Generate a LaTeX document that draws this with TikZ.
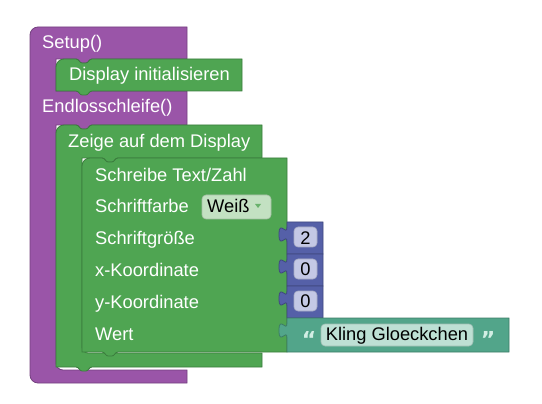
\documentclass[tikz,border=0pt]{standalone}
\usepackage{fontspec}
\setmainfont{Liberation Sans}
\newfontfamily\quotefont{DejaVu Sans}
\newcommand\blkfont{\fontsize{18.3}{20}\selectfont}
\definecolor{procPurple}{HTML}{9A55A8}
\definecolor{dispGreen}{HTML}{4FA552}
\definecolor{numBlue}{HTML}{5560A8}
\definecolor{textTeal}{HTML}{52A58A}
\definecolor{fieldGreen}{HTML}{C3E1C2}
\definecolor{fieldBlue}{HTML}{C4C8E5}
\definecolor{fieldTeal}{HTML}{BDE0D4}
\definecolor{quoteTeal}{HTML}{D2EEE4}
\begin{document}
\begin{tikzpicture}[x=1pt,y=-1pt,
  lbl/.style={anchor=base west,text=white,inner sep=0pt,font=\blkfont},
  val/.style={anchor=base,text=black,inner sep=0pt,font=\blkfont},
  quotemark/.style={anchor=base,inner sep=0pt,text=quoteTeal,font=\quotefont\bfseries\fontsize{22}{22}\selectfont},
  purpleblock/.style={fill=procPurple,draw=procPurple!75!black,line width=0.8pt},
  greenblock/.style={fill=dispGreen,draw=dispGreen!75!black,line width=0.8pt},
  blueblock/.style={fill=numBlue,draw=numBlue!75!black,line width=0.8pt},
  tealblock/.style={fill=textTeal,draw=textTeal!75!black,line width=0.8pt},
  field/.style={rounded corners=4pt,line width=0.6pt}]
\useasboundingbox (0,0) rectangle (542,404);

% procedure block with two statement slots
\path[purpleblock] (30,35) .. controls (30,30.6) and (33.6,27) .. (38,27)
  -- (187,27) -- (187,59) -- (92,59)
  .. controls (89,59) and (88.5,63) .. (86,63) -- (82,63)
  .. controls (79.5,63) and (79,59) .. (76,59)
  -- (56,59) -- (56,91) -- (187,91) -- (187,125) -- (92,125)
  .. controls (89,125) and (88.5,129) .. (86,129) -- (82,129)
  .. controls (79.5,129) and (79,125) .. (76,125)
  -- (56,125) -- (56,363) .. controls (56,366.9) and (59.1,370) .. (63,370)
  -- (187,370) -- (187,383) -- (38,383)
  .. controls (33.6,383) and (30,379.4) .. (30,375) -- cycle;

% Display initialisieren
\path[greenblock] (56,67) .. controls (56,62.6) and (59.6,59) .. (64,59)
  -- (76,59) .. controls (79,59) and (79.5,63) .. (82,63) -- (86,63)
  .. controls (88.5,63) and (89,59) .. (92,59)
  -- (242,59) -- (242,91) -- (92,91)
  .. controls (89,91) and (88.5,95) .. (86,95) -- (82,95)
  .. controls (79.5,95) and (79,91) .. (76,91) -- (56,91) -- cycle;

% Zeige auf dem Display (C-shaped)
\path[greenblock] (56,133) .. controls (56,128.6) and (59.6,125) .. (64,125)
  -- (76,125) .. controls (79,125) and (79.5,129) .. (82,129) -- (86,129)
  .. controls (88.5,129) and (89,125) .. (92,125)
  -- (262,125) -- (262,158) -- (118,158)
  .. controls (115,158) and (114.5,162) .. (112,162) -- (108,162)
  .. controls (105.5,162) and (105,158) .. (102,158)
  -- (82,158) -- (82,347) .. controls (82,350.3) and (84.7,353) .. (88,353)
  -- (262,353) -- (262,367) -- (92,367)
  .. controls (89,367) and (88.5,371) .. (86,371) -- (82,371)
  .. controls (79.5,371) and (79,367) .. (76,367) -- (56,367) -- cycle;

% Schreibe Text/Zahl
\path[greenblock] (82,166) .. controls (82,161.6) and (85.6,158) .. (90,158)
  -- (102,158) .. controls (105,158) and (105.5,162) .. (108,162) -- (112,162)
  .. controls (114.5,162) and (115,158) .. (118,158)
  -- (287,158) -- (287,352) -- (118,352)
  .. controls (115,352) and (114.5,356) .. (112,356) -- (108,356)
  .. controls (105.5,356) and (105,352) .. (102,352) -- (82,352) -- cycle;

% number blocks with output tabs
\foreach \t in {222,254,286}{
  \path[blueblock] (287,\t+5) -- (287,\t) -- (323,\t)
    -- (323,\t+32) -- (287,\t+32) -- (287,\t+20)
    .. controls (287,\t+10) and (279,\t+28) .. (279,\t+12.5)
    .. controls (279,\t-3) and (287,\t+15) .. (287,\t+5) -- cycle;
}
% text block with output tab
\path[tealblock] (287,323) -- (287,318) -- (509,318) -- (509,352) -- (287,352) -- (287,338)
  .. controls (287,328) and (279,346) .. (279,330.5)
  .. controls (279,315) and (287,333) .. (287,323) -- cycle;

% labels
\node[lbl] (setup) at (42,48.5) {Setup()};
\node[lbl] (dispinit) at (69,80.5) {Display initialisieren};
\node[lbl] (loop) at (42,112.5) {Endlosschleife()};
\node[lbl] (show) at (68,147.5) {Zeige auf dem Display};
\node[lbl] (write) at (95,181.5) {Schreibe Text/Zahl};
\node[lbl] (colour) at (95,212.5) {Schriftfarbe};
\node[lbl] (size) at (95,244.5) {Schriftgröße};
\node[lbl] (xcoord) at (95,276.5) {x-Koordinate};
\node[lbl] (ycoord) at (95,308.5) {y-Koordinate};
\node[lbl] (value) at (95,340.5) {Wert};

% dropdown field
\path[field,fill=fieldGreen,draw=fieldGreen!85!black] (202,195) rectangle (271,219);
\node[val,anchor=base west] (weiss) at (207,212.5) {Weiß};
\fill[dispGreen!85!white] (255,204) -- (261,204) -- (258,208) -- cycle;

% number fields
\path[field,fill=fieldBlue,draw=fieldBlue!85!black] (294,227) rectangle (317,247);
\node[val] (numsize) at (305.5,244) {2};
\path[field,fill=fieldBlue,draw=fieldBlue!85!black] (294,259) rectangle (317,279);
\node[val] (numx) at (305.5,276) {0};
\path[field,fill=fieldBlue,draw=fieldBlue!85!black] (294,291) rectangle (317,311);
\node[val] (numy) at (305.5,308) {0};

% text field with quotes
\path[field,fill=fieldTeal,draw=fieldTeal!85!black] (321,324) rectangle (473,346);
\node[val] (txt) at (397,340.5) {Kling Gloeckchen};
\node[quotemark] (qopen) at (309,348) {“};
\node[quotemark] (qclose) at (488,348) {”};
\end{tikzpicture}
\end{document}
